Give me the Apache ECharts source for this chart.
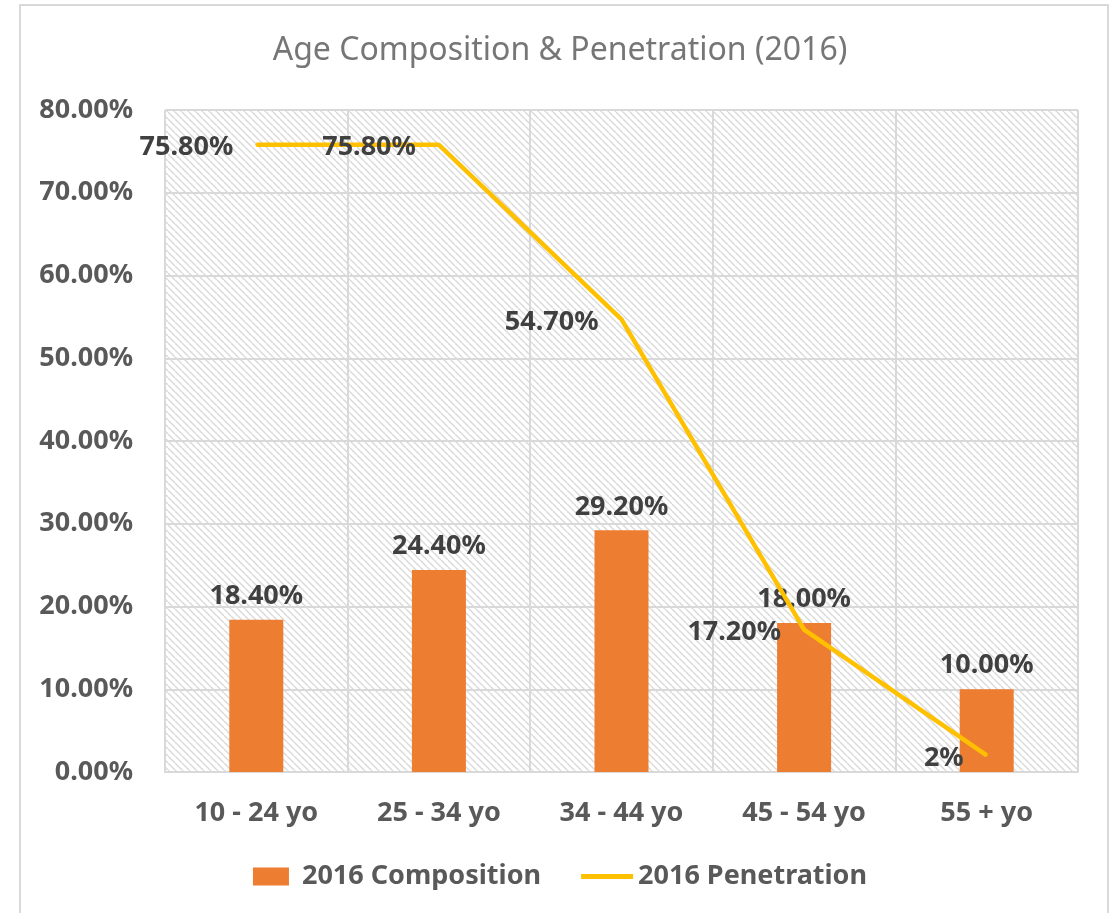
<!DOCTYPE html>
<html>
<head>
<meta charset="utf-8">
<script src="https://cdn.jsdelivr.net/npm/echarts@6/dist/echarts.min.js"></script>
<style>
  html, body { margin: 0; padding: 0; background: #fff; }
  #chart { width: 1120px; height: 913px; }
</style>
</head>
<body>
<div id="chart"></div>
<script>
const categories = ['10 - 24 yo', '25 - 34 yo', '34 - 44 yo', '45 - 54 yo', '55 + yo'];
const composition = [18.4, 24.4, 29.2, 18.0, 10.0];
const penetration = [75.8, 75.8, 54.7, 17.2, 2];
const penetrationLabels = ['75.80%', '75.80%', '54.70%', '17.20%', '2%'];
const yTicks = [0, 10, 20, 30, 40, 50, 60, 70, 80];

// diagonal hatch used behind the plot
function hatch() {
    let s = 7;
    let c = document.createElement('canvas');
    c.width = s; c.height = s;
    let ctx = c.getContext('2d');
    ctx.strokeStyle = '#d9d9d9';
    ctx.lineWidth = 1.4;
    for (let x0 of [-s, 0, s]) {
        ctx.beginPath();
        ctx.moveTo(x0, 0);
        ctx.lineTo(x0 + s, s);
        ctx.stroke();
    }
    return { image: c, repeat: 'repeat' };
}

const font = '"Noto Sans", "Open Sans", sans-serif';
let myChart = echarts.init(document.getElementById('chart'));
myChart.setOption({
    animation: false,
    title: {
        text: 'Age Composition & Penetration (2016)',
        left: 'center',
        top: 30,
        textStyle: { fontFamily: font, fontSize: 32, fontWeight: 'normal', color: '#767676' }
    },
    graphic: [{
        type: 'rect',
        shape: { x: 20, y: 5, width: 1088, height: 940 },
        style: { fill: 'none', stroke: '#d9d9d9', lineWidth: 2 },
        silent: true
    }],
    legend: {
        bottom: 18,
        left: 'center',
        itemWidth: 52,
        itemHeight: 18,
        itemGap: 40,
        textStyle: { fontFamily: font, fontSize: 27, fontWeight: 'bold', color: '#595959' },
        data: [
            { name: '2016 Composition', icon: 'path://M0,0h36v18h-36z' },
            { name: '2016 Penetration', icon: 'path://M0,0h52v5h-52z', itemStyle: { color: '#FFC000', opacity: 1 } }
        ]
    },
    grid: {
        left: 165,
        right: 42,
        top: 110,
        bottom: 141,
        show: true,
        borderWidth: 0,
        backgroundColor: hatch()
    },
    xAxis: {
        type: 'category',
        data: categories,
        boundaryGap: true,
        axisLine: { lineStyle: { color: '#d9d9d9', width: 2 } },
        axisTick: { show: false },
        splitLine: { show: true, lineStyle: { color: '#d9d9d9', width: 2 } },
        axisLabel: {
            margin: 28,
            fontFamily: font, fontSize: 27, fontWeight: 'bold', color: '#595959'
        }
    },
    yAxis: {
        type: 'value',
        min: yTicks[0],
        max: yTicks[yTicks.length - 1],
        interval: 10,
        axisLine: { show: false },
        axisTick: { show: false },
        splitLine: { lineStyle: { color: '#d9d9d9', width: 2 } },
        axisLabel: {
            margin: 32,
            fontFamily: font, fontSize: 27, fontWeight: 'bold', color: '#595959',
            formatter: v => v.toFixed(2) + '%'
        }
    },
    series: [
        {
            name: '2016 Composition',
            type: 'bar',
            data: composition,
            barWidth: 54,
            itemStyle: { color: '#ED7D31' },
            label: {
                show: true,
                position: 'top',
                distance: 10,
                fontFamily: font, fontSize: 27, fontWeight: 'bold', color: '#404040',
                formatter: p => p.value.toFixed(2) + '%'
            },
            z: 2
        },
        {
            name: '2016 Penetration',
            type: 'line',
            data: penetration,
            showSymbol: true,
            symbol: 'circle',
            symbolSize: 2,
            itemStyle: { color: '#FFC000' },
            lineStyle: { color: '#FFC000', width: 4.5 },
            label: {
                show: true,
                position: 'left',
                distance: 22,
                offset: [0, 3],
                fontFamily: font, fontSize: 27, fontWeight: 'bold', color: '#404040',
                formatter: p => penetrationLabels[p.dataIndex]
            },
            z: 3
        }
    ]
});
</script>
</body>
</html>
